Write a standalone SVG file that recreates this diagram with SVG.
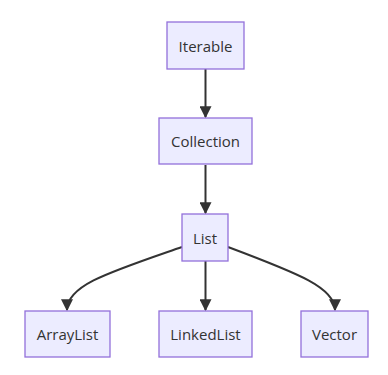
<svg xmlns="http://www.w3.org/2000/svg" width="388" height="375" viewBox="0 0 388 375">
<style>
.node rect{fill:#ECECFF;stroke:#9370DB;stroke-width:1.3px}
.node text{font-family:"Open Sans","DejaVu Sans",sans-serif;font-size:15px;fill:#333;text-anchor:middle;dominant-baseline:central}
.edge{fill:none;stroke:#333;stroke-width:2px}
</style>
<defs>
<marker id="arr" viewBox="0 0 10 10" refX="9" refY="5" markerUnits="userSpaceOnUse" markerWidth="12" markerHeight="12" orient="auto">
<path d="M0,0 L10,5 L0,10 z" fill="#333"/>
</marker>
</defs>
<rect width="388" height="375" fill="#fff"/>
<g id="connectors">
<path class="edge" d="M205.5,69 L205.5,117" marker-end="url(#arr)"/>
<path class="edge" d="M205.5,165 L205.5,213" marker-end="url(#arr)"/>
<path class="edge" d="M182,247 C110,272 67,285 67,310" marker-end="url(#arr)"/>
<path class="edge" d="M205.5,261 L205.5,310" marker-end="url(#arr)"/>
<path class="edge" d="M228,247 C300,274 335,288 335,310" marker-end="url(#arr)"/>
</g>
<g id="Iterable" class="node"><rect x="167" y="22" width="77" height="47"/><text x="205.5" y="45.5">Iterable</text></g>
<g id="Collection" class="node"><rect x="159" y="118" width="93" height="46"/><text x="205.5" y="141">Collection</text></g>
<g id="List" class="node"><rect x="182" y="214" width="46" height="47"/><text x="205" y="237.5">List</text></g>
<g id="ArrayList" class="node"><rect x="25" y="311" width="85" height="46"/><text x="67.5" y="334">ArrayList</text></g>
<g id="LinkedList" class="node"><rect x="159" y="311" width="93" height="46"/><text x="205.5" y="334">LinkedList</text></g>
<g id="Vector" class="node"><rect x="301" y="311" width="67" height="46"/><text x="334.5" y="334">Vector</text></g>
</svg>
